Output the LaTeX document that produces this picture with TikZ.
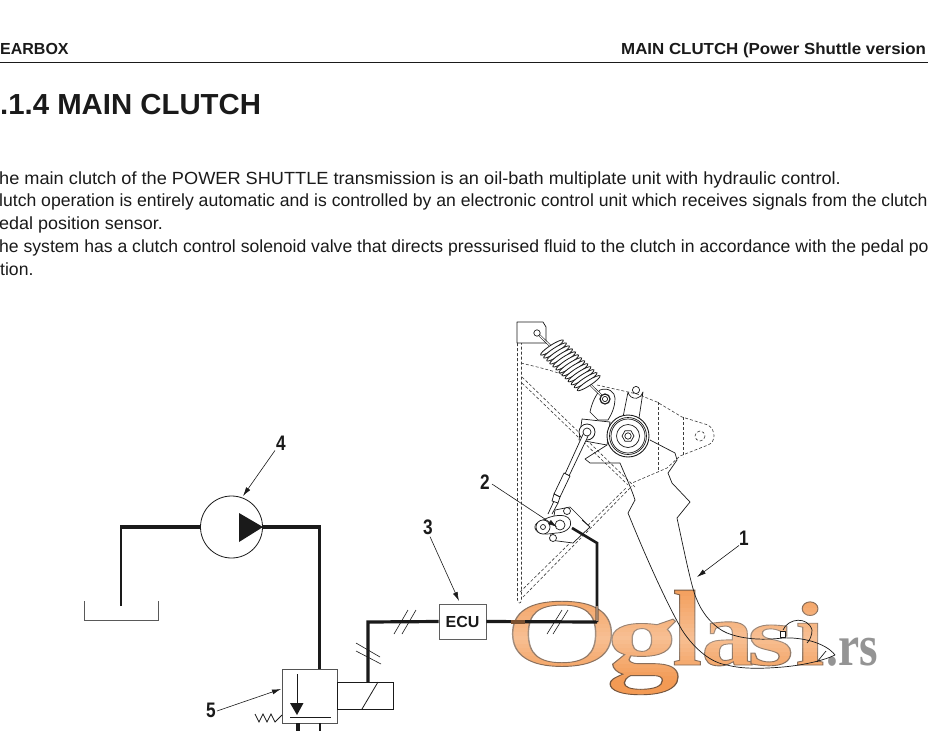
\documentclass[tikz,border=0pt]{standalone}
\usepackage{fontspec}
\setmainfont{Liberation Sans}
\newfontfamily\logofont{Liberation Serif}[BoldFont={Liberation Serif Bold}]
\usetikzlibrary{calc,arrows.meta}
\definecolor{ink}{HTML}{1A1A1A}
\definecolor{logoA}{HTML}{F39A54}
\definecolor{logoline}{HTML}{7A5030}
\tikzset{
  x=1pt,y=-1pt,
  pipe/.style={line width=3.2pt,draw=ink,line join=miter},
  thin line/.style={line width=.8pt,draw=ink},
  part/.style={line width=.7pt,draw=ink,line join=round},
  hidden/.style={line width=.6pt,draw=ink!85,dash pattern=on 3pt off 2pt},
  callout/.style={line width=.6pt,draw=ink,-{Latex[length=9pt,width=5pt]},shorten >=0pt},
  num/.style={font=\bfseries\fontsize{21}{21}\selectfont,text=ink,inner sep=0pt,xscale=.82},
  body/.style={anchor=base west,inner sep=0pt,font=\fontsize{17.6}{20}\selectfont,text=ink},
  slashes/.style={line width=.6pt,draw=ink},
  head/.style={anchor=base west,inner sep=0pt,font=\bfseries\fontsize{16}{16}\selectfont,text=ink},
}
\newcommand{\lgl}[6]{% name,x,y,size,xscale,text
  \node[anchor=base west,inner sep=0pt,xscale=#5,text=logoA] (#1) at (#2,#3)
    {\fontsize{#4}{#4}\selectfont\logofont\bfseries\special{pdf:code 2 Tr 0.9 w 0.45 0.33 0.24 RG}#6\special{pdf:code 0 Tr}};}
\begin{document}
\begin{tikzpicture}
\useasboundingbox (0,0) rectangle (928,731);
\clip (0,0) rectangle (928,731);
\fill[white] (0,0) rectangle (928,731);
% header
\node[head] (hl) at (0,54) {EARBOX};
\node[head,xscale=1.055] (hr) at (621,54) {MAIN CLUTCH (Power Shuttle version};
\draw[line width=.8pt,draw=ink] (0,62.5) -- (928,62.5);
\node[anchor=base west,inner sep=0pt,xscale=1.012,font=\bfseries\fontsize{29}{29}\selectfont,text=ink] (title) at (0,114) {.1.4 MAIN CLUTCH};
% body
\node[body,xscale=1.033] (t1) at (-1,184) {he main clutch of the POWER SHUTTLE transmission is an oil-bath multiplate unit with hydraulic control.};
\node[body] (t2) at (-1,206) {lutch operation is entirely automatic and is controlled by an electronic control unit which receives signals from the clutch};
\node[body,xscale=1.02] (t3) at (-1,229) {edal position sensor.};
\node[body] (t4) at (-1,252) {he system has a clutch control solenoid valve that directs pressurised fluid to the clutch in accordance with the pedal po};
\node[body] (t5) at (0,275) {tion.};

% ---- watermark (under the line work) ----
\lgl{lO}{506}{665.5}{97}{1.59}{\mdseries O\kern-8pt}
\lgl{lg}{606}{672}{103}{1.42}{g\kern-5pt}
\lgl{ll}{672}{665}{108}{1}{l}
\lgl{la}{701}{665}{92}{1.14}{a\kern-6pt}
\lgl{ls}{747}{665}{85}{1.4}{s}
\lgl{li}{795}{665}{91}{1.15}{i}
% the pale sheen across the letters: white veils leave the white page unchanged
\foreach \y in {588,592,...,692}{
  \pgfmathsetmacro{\veil}{\y<636 ? 0.05+0.32*(\y-588)/48 : 0.37*(680-\y)/44*(\y<680)}
  \fill[white,opacity=\veil] (505,\y) rectangle (825.5,\y+4);
}
\node[anchor=base west,inner sep=0pt,xscale=.82,text=black!42,font=\logofont\bfseries\fontsize{58}{58}\selectfont] (rs) at (826,665) {.rs};

% ---- pedal assembly ----
\draw[part] (546,343) -- (546,327) -- (543,322) -- (517,322) -- (517,343) -- (546,343);
\draw[hidden] (517.5,343) -- (517.5,600) .. controls (518,604) and (521,604) .. (521.5,600) -- (521.5,343);
\draw[hidden] (521,363) .. controls (540,368) and (565,372) .. (581,385);
\draw[hidden] (597,385) -- (637,394) -- (657,402) -- (682,417) -- (708,425) .. controls (716,430) and (716,442) .. (708,445) -- (680,456) -- (667,468) -- (632,483);
\draw[hidden] (658,402) -- (658,472);
\draw[hidden] (683,417) -- (683,457);
\draw[hidden] (700,436) circle (5);
\draw[hidden] (522,377) -- (635,487);
\draw[hidden] (522,383) -- (628,485);
\draw[hidden] (523,597) -- (632,486);
\draw[hidden] (520,592) -- (626,488);
% pedal lever
\draw[part] (607,445) -- (585,459) -- (590,463) -- (620,463) .. controls (625,475) and (632,490) .. (635,500) -- (628,513)
   .. controls (645,555) and (665,600) .. (682,630) .. controls (695,650) and (712,663) .. (727,665) .. controls (745,670) and (770,668) .. (783,667)
   .. controls (805,665) and (825,660) .. (835,655);
\draw[part] (650,440) -- (675,453) -- (677,460) -- (668,473) -- (672,483) -- (690,502) -- (677,518)
   .. controls (685,555) and (692,590) .. (697,600) .. controls (703,615) and (715,628) .. (727,633) .. controls (745,640) and (765,640) .. (783,638)
   .. controls (800,637) and (825,642) .. (835,655);
\draw[part] (783,630) .. controls (788,618) and (808,616) .. (812,630) .. controls (812,635) and (810,640) .. (807,643);
\draw[part] (817,662) -- (826,651);
\draw[part,fill=white] (780,631) rectangle (785,637);
% stalk
\draw[part,fill=white] (623,417) -- (628,392) arc[start angle=170,end angle=10,radius=7.6] -- (639,418) -- cycle;
\draw[part] (636,390) circle (3.6);
% arc lever with spring anchor
\draw[part,fill=white] (590,412) .. controls (592,402) and (596,395) .. (600,390) .. controls (608,387) and (615,392) .. (615,398) .. controls (615,408) and (611,415) .. (608,420) -- (598,420) -- cycle;
\draw[part,fill=white] (582,419) -- (610,422) -- (607,445) -- (579,440) -- cycle;
% wheel
\node[circle,draw=ink,line width=.9pt,fill=white,minimum size=42pt,inner sep=0pt] (wheel) at (628,436) {};
\draw[part] (wheel.center) circle (18.5);
\draw[part] (wheel.center) circle (17);
\draw[part] (wheel.center) circle (11.5);
\draw[part] (wheel.center) +(6,0) -- +(3,5.2) -- +(-3,5.2) -- +(-6,0) -- +(-3,-5.2) -- +(3,-5.2) -- cycle;
\draw[part] (wheel.center) circle (3.2);
% spring
\coordinate (sprA) at (537,333);
\coordinate (sprB) at (605,399);
\draw[line width=2.2pt,draw=ink] (sprA) -- (sprB);
\draw[line width=1pt,draw=white] (sprA) -- (sprB);
\draw[part,fill=white] (sprA) circle (3.2);
\foreach \t in {.22,.265,.31,.355,.40,.445,.49,.535,.58,.625,.67,.715,.76}{
  \draw[line width=.8pt,draw=ink,fill=white] ($(sprA)!\t!(sprB)$) circle[x radius=13.5,y radius=2.5,rotate=33];
}
\draw[line width=1.2pt,draw=ink,fill=white] (605,399) circle (5);
\draw[part,fill=white] (605,399) circle (2.6);
% pull rod
\node[circle,draw=ink,line width=.8pt,fill=white,minimum size=16pt,inner sep=0pt] (pin) at (587,432) {};
\draw[part,fill=white] (584.5,431) -- (565,474) -- (569,476) -- (589.5,433) -- cycle;
\draw[part,fill=white] (564,473) -- (554,494) -- (560,497) -- (570,476) -- cycle;
\draw[part,fill=white] (554,494) -- (552,501) -- (558,503) -- (560,497) -- cycle;
\draw[part] (554,501) -- (548,514);
\draw[part] (558,503) -- (552,514);
\draw[part,fill=white] (pin.center) circle (4);
% sensor
\draw[part,fill=white] (555,510) -- (570,507) -- (590,527) -- (573,543) -- (550,540) -- cycle;
\draw[part] (590,527) -- (582,520);
\draw[part,fill=white] (567,511) circle (3.5);
\draw[part,fill=white] (553,538) circle (3.5);
\draw[part,fill=white] (543,520) .. controls (550,516) and (566,512) .. (570,520) .. controls (573,528) and (565,533) .. (556,533) .. controls (550,534) and (537,536) .. (535,528) .. controls (534,524) and (538,522) .. (543,520) -- cycle;
\node[circle,draw=ink,line width=.7pt,fill=white,minimum size=14pt,inner sep=0pt] (sensor) at (543,527) {};
\draw[part] (sensor.center) circle (2.5);
\draw[part] (560,525) circle (5);

% ---- circuit ----
\node[circle,draw=ink,line width=.8pt,minimum size=62pt,inner sep=0pt,fill=white] (pump) at (231.5,527) {};
\fill[ink] (239,513) -- (263,527) -- (239,542) -- cycle;
\coordinate (suction) at (121,606);
\coordinate (pcorner) at (121,527);
\coordinate (dcorner) at (319.5,527);
\draw[pipe,line width=2.6pt] (suction) -- (pcorner);
\draw[pipe] (120,527) -- (pump.west);
\draw[pipe] (pump.east) -- (dcorner) -- ++(0,1.5);
\draw[thin line,gray!70!black] (84,601) -- (84,620.5) -- (158,620.5) -- (158,601);
% valve
\node[draw=ink!75,line width=1pt,minimum width=55pt,minimum height=54pt,inner sep=0pt,anchor=north west,fill=white] (valve) at (282,669) {};
\draw[pipe,line width=2.6pt] (319.5,527) -- (319.5,669);
\node[draw=ink,line width=.8pt,minimum width=56pt,minimum height=27pt,inner sep=0pt,anchor=north west] (coil) at (337,682) {};
\draw[thin line] (362,709) -- (378,682);
\draw[thin line] (297,674) -- (297,703);
\fill[ink] (290,703) -- (303.5,703) -- (297,715) -- cycle;
\draw[thin line] (290,717) -- (331,717);
\draw[thin line] (255,714) -- (259,722) -- (263,714) -- (267,722) -- (271,714) -- (275,722) -- (282,715);
\draw[pipe] (298,723) -- (298,731);
\draw[pipe,line width=2pt] (320,723) -- (320,731);
% ECU
\node[draw=ink!70,line width=.9pt,minimum width=47pt,minimum height=35pt,inner sep=0pt,fill=white,font=\bfseries\fontsize{16}{16}\selectfont,text=ink] (ecu) at (462.5,621.5) {ECU};
\coordinate (ecorner) at (368,622);
\draw[pipe] (368,682) -- (ecorner) -- (ecu.west);
\coordinate (junction) at (597,622);
\draw[pipe] (ecu.east) -- (junction);
\draw[pipe,line width=2.6pt] (junction) -- (597,543) -- (572,528);
% pipe seen through the watermark ring
\draw[pipe,draw=logoline] (511,622) -- (525,622);
\draw[pipe,line width=2.6pt,draw=logoline!70!white] (597,606) -- (597,621);
% slashes
\draw[slashes] (394,634) -- (408,610) (402,634) -- (416,610);
\draw[slashes] (547,634) -- (562,610) (553,634) -- (568,610);
\draw[slashes] (356,643) -- (380,657) (356,651) -- (381,664);
% labels
\node[num] (n1) at (744,538) {1};
\node[num] (n2) at (485,482) {2};
\node[num] (n3) at (428,527) {3};
\node[num] (n4) at (281,443) {4};
\node[num] (n5) at (211,710) {5};
\coordinate (to1) at (697,577);
\coordinate (to2) at (557,527);
\coordinate (to3) at (459,601);
\coordinate (to4) at (243,496);
\coordinate (to5) at (281,689);
\draw[callout] (n1.south west) -- (to1);
\draw[callout] (n2.east) ++(2,2) -- (to2);
\draw[callout] (n3.south) ++(2,2) -- (to3);
\draw[callout] (n4.south) ++(-6,0) -- (to4);
\draw[callout] (n5.east) ++(1,1) -- (to5);
\end{tikzpicture}
\end{document}
